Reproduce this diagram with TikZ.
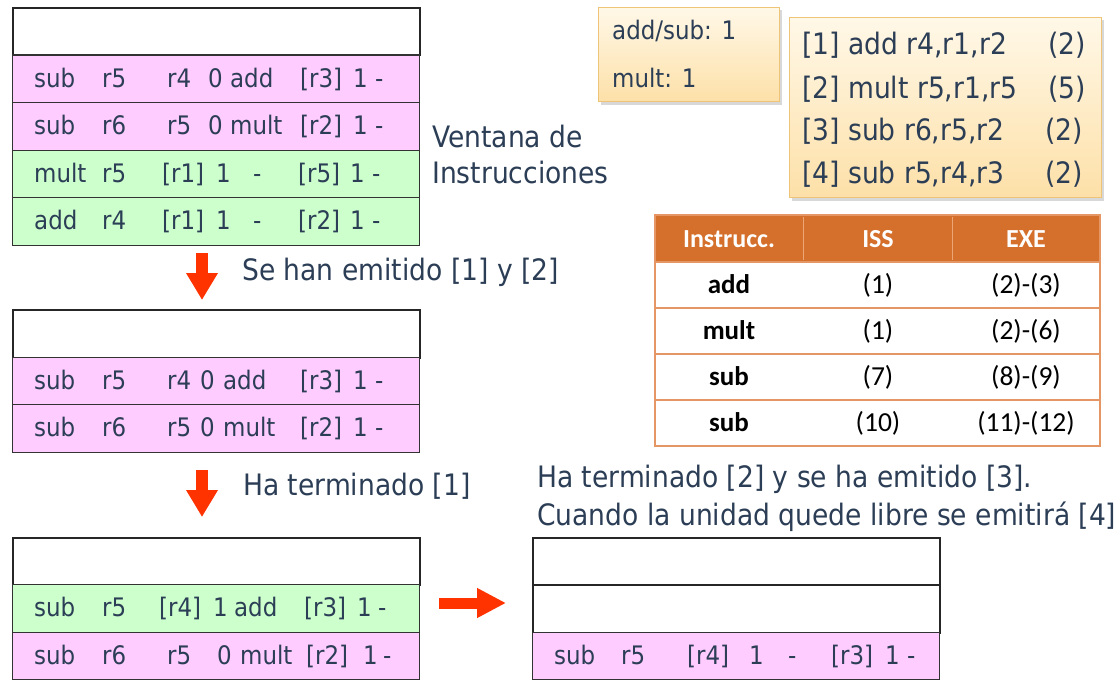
\documentclass[tikz,border=0pt]{standalone}
\usepackage{fontspec}
\setmainfont{DejaVu Sans}[FakeStretch=0.9]
\newfontfamily\tabfont{Carlito}
\usetikzlibrary{arrows.meta,shadows}

\definecolor{ink}{RGB}{44,62,86}
\definecolor{waitpink}{RGB}{255,204,255}
\definecolor{readygreen}{RGB}{204,255,204}
\definecolor{rowline}{RGB}{50,50,50}
\definecolor{arrowred}{RGB}{255,51,0}
\definecolor{hdrorange}{RGB}{212,112,44}
\definecolor{tabline}{RGB}{228,150,100}
\definecolor{hdrsep}{RGB}{236,166,118}
\definecolor{notelight}{RGB}{255,248,232}
\definecolor{notedark}{RGB}{253,224,168}
\definecolor{noteedge}{RGB}{238,196,120}

% fixed-width field inside a window row
\newcommand{\cf}[2]{\makebox[#1pt][l]{#2}}

\begin{document}
\begin{tikzpicture}[
  x=1pt, y=-1pt,
  rowbox/.style={draw=rowline, line width=1.2pt, minimum width=407, minimum height=47.5,
                 anchor=north west, inner sep=0pt},
  blankrow/.style={rowbox, fill=white, line width=2pt, draw=black!85},
  waitrow/.style={rowbox, fill=waitpink},
  readyrow/.style={rowbox, fill=readygreen},
  rowtext/.style={font=\fontsize{25.5}{30}\selectfont, text=ink, anchor=base west, inner sep=0pt},
  lbl/.style={font=\fontsize{29.5}{36}\selectfont, text=ink, anchor=base west, inner sep=0pt},
  notebox/.style={draw=noteedge, line width=1pt, top color=notelight, bottom color=notedark,
                  drop shadow={shadow xshift=2pt, shadow yshift=-3pt, opacity=0.3},
                  anchor=north west, inner sep=0pt},
  notetext/.style={text=ink, anchor=base west, inner sep=0pt},
  thead/.style={font=\tabfont\bfseries\fontsize{26}{30}\selectfont, text=white, anchor=base, inner sep=0pt},
  tcell/.style={font=\tabfont\fontsize{27.5}{30}\selectfont, text=black, anchor=base, inner sep=0pt},
  tname/.style={tcell, font=\tabfont\bfseries\fontsize{27}{30}\selectfont},
  blockarrow/.style={draw=arrowred, line width=12pt, -{Triangle[width=30pt,length=27pt]}}
]

  \useasboundingbox (0,0) rectangle (1116,685);
  \fill[white] (0,0) rectangle (1116,685);

  % First window: four instructions waiting
  \node[blankrow] (t1r0) at (12,7) {};
  \node[waitrow]  (t1r1) at (12,54.5) {};
  \node[waitrow]  (t1r2) at (12,102) {};
  \node[readyrow] (t1r3) at (12,149.5) {};
  \node[readyrow] (t1r4) at (12,197) {};
  \node[rowtext] (t1r1t) at ([shift={(22,8.5)}]t1r1.west)
    {\cf{68}{sub}\cf{65}{r5}\cf{41}{r4}\cf{22}{0}\cf{70}{add}\cf{53}{[r3]}\cf{22}{1}-};
  \node[rowtext] (t1r2t) at ([shift={(22,8.5)}]t1r2.west)
    {\cf{68}{sub}\cf{65}{r6}\cf{41}{r5}\cf{22}{0}\cf{70}{mult}\cf{53}{[r2]}\cf{22}{1}-};
  \node[rowtext] (t1r3t) at ([shift={(22,8.5)}]t1r3.west)
    {\cf{68}{mult}\cf{60}{r5}\cf{54}{[r1]}\cf{37}{1}\cf{45}{-}\cf{52}{[r5]}\cf{22}{1}-};
  \node[rowtext] (t1r4t) at ([shift={(22,8.5)}]t1r4.west)
    {\cf{68}{add}\cf{60}{r4}\cf{54}{[r1]}\cf{37}{1}\cf{45}{-}\cf{52}{[r2]}\cf{22}{1}-};

  \node[lbl] (ventana) at (432,147) {Ventana de};
  \node[lbl] (instr)   at (432,183) {Instrucciones};

  % Second window
  \coordinate (a1s) at (202,253);
  \coordinate (a1e) at (202,300);
  \draw[blockarrow] (a1s) -- (a1e);
  \node[lbl] (emit12) at (242,280) {Se han emitido [1] y [2]};

  \node[blankrow] (t2r0) at (12,309) {};
  \node[waitrow]  (t2r1) at (12,356.5) {};
  \node[waitrow]  (t2r2) at (12,404) {};
  \node[rowtext] (t2r1t) at ([shift={(22,8.5)}]t2r1.west)
    {\cf{68}{sub}\cf{65}{r5}\cf{33}{r4}\cf{23}{0}\cf{77}{add}\cf{53}{[r3]}\cf{22}{1}-};
  \node[rowtext] (t2r2t) at ([shift={(22,8.5)}]t2r2.west)
    {\cf{68}{sub}\cf{65}{r6}\cf{33}{r5}\cf{23}{0}\cf{77}{mult}\cf{53}{[r2]}\cf{22}{1}-};

  % Third window
  \coordinate (a2s) at (202,470);
  \coordinate (a2e) at (202,517);
  \draw[blockarrow] (a2s) -- (a2e);
  \node[lbl] (fin1) at (243,495) {Ha terminado [1]};

  \node[blankrow] (t3r0) at (12,536.5) {};
  \node[readyrow] (t3r1) at (12,584) {};
  \node[waitrow]  (t3r2) at (12,631.5) {};
  \node[rowtext] (t3r1t) at ([shift={(22,8.5)}]t3r1.west)
    {\cf{68}{sub}\cf{57}{r5}\cf{54}{[r4]}\cf{21}{1}\cf{70}{add}\cf{53}{[r3]}\cf{21}{1}-};
  \node[rowtext] (t3r2t) at ([shift={(22,8.5)}]t3r2.west)
    {\cf{68}{sub}\cf{65}{r6}\cf{50}{r5}\cf{23}{0}\cf{66}{mult}\cf{57}{[r2]}\cf{20}{1}-};

  % Fourth window
  \coordinate (a3s) at (439,603);
  \coordinate (a3e) at (506,603);
  \draw[blockarrow, line width=11pt, -{Triangle[width=28pt,length=29pt]}] (a3s) -- (a3e);
  \node[lbl] (fin2)   at (537,487) {Ha terminado [2] y se ha emitido [3].};
  \node[lbl] (cuando) at (537,525) {Cuando la unidad quede libre se emitirá [4]};

  \node[blankrow] (t4r0) at (532,536.5) {};
  \node[blankrow] (t4r1) at (532,584) {};
  \node[waitrow]  (t4r2) at (532,631.5) {};
  \node[rowtext] (t4r2t) at ([shift={(22,8.5)}]t4r2.west)
    {\cf{67}{sub}\cf{66}{r5}\cf{62}{[r4]}\cf{39}{1}\cf{43}{-}\cf{54}{[r3]}\cf{22}{1}-};

  % Functional units and code
  \node[notebox, minimum width=181, minimum height=94] (units) at (598,7) {};
  \node[notetext, font=\fontsize{25.5}{30}\selectfont] (uadd)  at (612,40) {add/sub: 1};
  \node[notetext, font=\fontsize{25.5}{30}\selectfont] (umult) at (612,88) {mult: 1};

  \node[notebox, minimum width=312, minimum height=180] (code) at (789,17) {};
  \node[notetext, font=\fontsize{29.5}{36}\selectfont] (i1) at (802,55)  {\cf{246}{[1] add r4,r1,r2}(2)};
  \node[notetext, font=\fontsize{29.5}{36}\selectfont] (i2) at (802,98)  {\cf{246}{[2] mult r5,r1,r5}(5)};
  \node[notetext, font=\fontsize{29.5}{36}\selectfont] (i3) at (802,140) {\cf{243}{[3] sub r6,r5,r2}(2)};
  \node[notetext, font=\fontsize{29.5}{36}\selectfont] (i4) at (802,183) {\cf{243}{[4] sub r5,r4,r3}(2)};

  % Timing table
  \fill[hdrorange] (655,215) rectangle (1100,262);
  \draw[hdrsep, line width=1pt] (803,217) -- (803,260);
  \draw[hdrsep, line width=1pt] (952,217) -- (952,260);
  \foreach \y in {262,308,354,400}
    \draw[tabline, line width=1.5pt] (655,\y) -- (1100,\y);
  \draw[tabline, line width=1.5pt] (655,215) rectangle (1100,446);

  \node[thead] (hins) at (729,247) {Instrucc.};
  \node[thead] (hiss) at (878,247) {ISS};
  \node[thead] (hexe) at (1026,247) {EXE};

  \node[tname] (n1) at (729,293) {add};
  \node[tcell] (s1) at (878,293) {(1)};
  \node[tcell] (e1) at (1026,293) {(2)-(3)};
  \node[tname] (n2) at (729,339) {mult};
  \node[tcell] (s2) at (878,339) {(1)};
  \node[tcell] (e2) at (1026,339) {(2)-(6)};
  \node[tname] (n3) at (729,385) {sub};
  \node[tcell] (s3) at (878,385) {(7)};
  \node[tcell] (e3) at (1026,385) {(8)-(9)};
  \node[tname] (n4) at (729,431) {sub};
  \node[tcell] (s4) at (878,431) {(10)};
  \node[tcell] (e4) at (1026,431) {(11)-(12)};

\end{tikzpicture}
\end{document}
